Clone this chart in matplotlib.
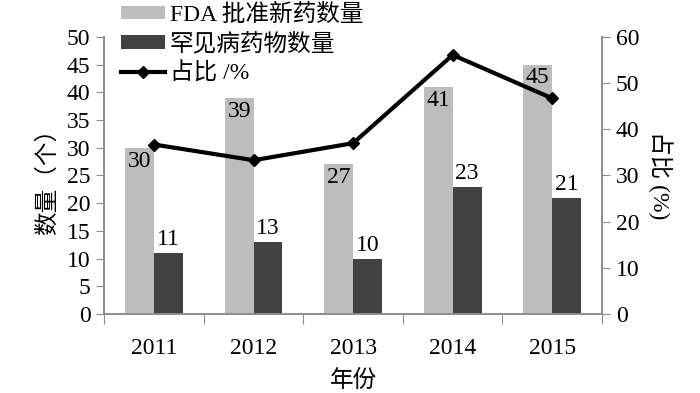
import numpy as np
import matplotlib
matplotlib.use("Agg")
import matplotlib.pyplot as plt

plt.rcParams['font.family'] = ['Liberation Serif', 'Noto Sans CJK SC']

# data
years = ['2011', '2012', '2013', '2014', '2015']
fda_new = [30, 39, 27, 41, 45]
rare = [11, 13, 10, 23, 21]
ratio = [36.7, 33.3, 37.0, 56.1, 46.7]

light = '#bdbdbd'
dark = '#424242'
spine_col = '#8c8c8c'
fs = 17

fig = plt.figure(figsize=(7, 3.93), dpi=100)
ax = fig.add_axes([0.149, 0.201, 0.711, 0.705])
ax2 = ax.twinx()

x = np.arange(len(years))
w = 0.29
b1 = ax.bar(x - w / 2, fda_new, w, color=light)
b2 = ax.bar(x + w / 2, rare, w, color=dark)

for xi, v in zip(x, fda_new):
    ax.text(xi - w / 2, v - 0.5, str(v), ha='center', va='top', fontsize=fs)
for xi, v in zip(x, rare):
    ax.text(xi + w / 2, v + 0.5, str(v), ha='center', va='bottom', fontsize=fs)

ln, = ax2.plot(x, ratio, color='black', lw=3, marker='D', markersize=6.5)

ax.set_xlim(-0.5, len(years) - 0.5)
ax.set_ylim(0, 50)
ax.set_yticks(range(0, 51, 5))
ax2.set_ylim(0, 60)
ax2.set_yticks(range(0, 61, 10))

ax.set_xticks(np.arange(-0.5, len(years), 1))
ax.set_xticklabels([])
ax.set_xticks(x, minor=True)
ax.set_xticklabels(years, minor=True)
ax.tick_params(axis='x', which='major', length=7, direction='out', color=spine_col)
ax.tick_params(axis='x', which='minor', length=0, pad=17, labelsize=fs)
ax.tick_params(axis='y', length=6, color=spine_col, labelsize=fs, pad=4)
ax2.tick_params(axis='y', length=6, color=spine_col, labelsize=fs, pad=4)

for a in (ax, ax2):
    a.spines['top'].set_visible(False)
    for s in ('left', 'right', 'bottom'):
        a.spines[s].set_color(spine_col)
        a.spines[s].set_linewidth(1.2)

ax.set_ylabel('数量（个）', fontsize=fs, labelpad=6)
ax2.set_ylabel('占比 (%)', fontsize=fs, rotation=270, labelpad=24)
ax.set_xlabel('年份', fontsize=fs, labelpad=8)

fig.legend([b1, b2, ln], ['FDA 批准新药数量', '罕见病药物数量', '占比 /%'],
           loc='upper left', bbox_to_anchor=(0.16, 1.015), frameon=False,
           fontsize=fs, handlelength=1.85, handleheight=0.5, handletextpad=0.2,
           labelspacing=0.3, borderaxespad=0)

fig.savefig('out.png', dpi=100)
